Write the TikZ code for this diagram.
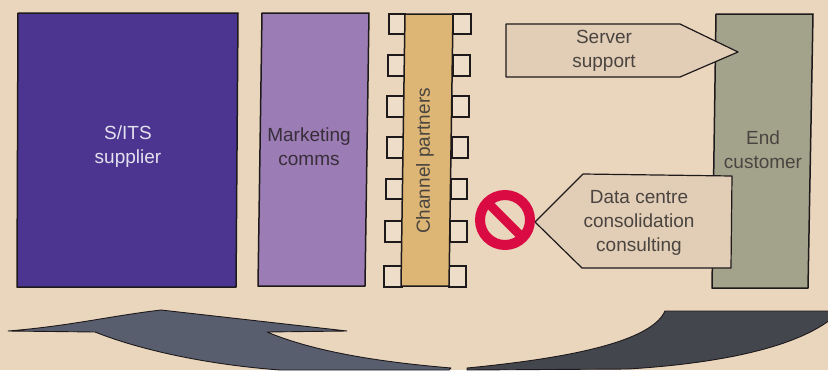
\documentclass[tikz,border=0pt]{standalone}
\usepackage{fontspec}
\setmainfont{Liberation Sans}
\definecolor{paper}{HTML}{EAD6BC}
\definecolor{ink}{HTML}{1E1A1C}
\definecolor{supplier}{HTML}{4B3590}
\definecolor{mkt}{HTML}{9C7CB4}
\definecolor{chan}{HTML}{DDB574}
\definecolor{cust}{HTML}{A3A38C}
\definecolor{tagfill}{HTML}{E2CDB6}
\definecolor{nored}{HTML}{DA0A42}
\definecolor{arrowL}{HTML}{595E6E}
\definecolor{arrowR}{HTML}{44464E}
\definecolor{txt}{HTML}{4A4540}
\tikzset{
  x=1pt,y=-1pt,
  box/.style={draw=ink,line width=1.5pt,line join=round},
  tabbox/.style={draw=ink,line width=1.3pt,fill=paper!80!white},
  tag/.style={draw=ink,line width=1.2pt,fill=tagfill,line join=round},
  lbl/.style={font=\fontsize{19}{24}\selectfont,align=center,text=txt,inner sep=0pt},
  sweep/.style={draw=ink,line width=0.9pt,line join=round}
}
\begin{document}
\begin{tikzpicture}
\useasboundingbox (0,0) rectangle (828,370);
\fill[paper] (0,0) rectangle (828,370);
% blocks
\draw[box,fill=supplier] (18,13) -- (238,13) -- (236,287) -- (17,287) -- cycle;
\draw[box,fill=mkt] (262,13) -- (369,13) -- (365,286) -- (258,286) -- cycle;
\draw[box,fill=cust] (716,14) -- (813,14) -- (808,288) -- (712,288) -- cycle;
% channel tabs
\draw[tabbox] (389,14) rectangle (405,34);
\draw[tabbox] (388,55) rectangle (405,76);
\draw[tabbox] (387,96) rectangle (404,117);
\draw[tabbox] (387,137) rectangle (404,158);
\draw[tabbox] (386,179) rectangle (403,199);
\draw[tabbox] (385,221) rectangle (403,242);
\draw[tabbox] (384,266) rectangle (402,287);
\draw[tabbox] (453,14) rectangle (471,34);
\draw[tabbox] (453,55) rectangle (470,76);
\draw[tabbox] (452,96) rectangle (469,117);
\draw[tabbox] (452,137) rectangle (468,158);
\draw[tabbox] (451,179) rectangle (467,199);
\draw[tabbox] (450,221) rectangle (467,242);
\draw[tabbox] (449,266) rectangle (466,287);
\draw[box,fill=chan] (405,14) -- (453,14) -- (449,286) -- (401,286) -- cycle;
% tags
\draw[tag] (506,24) -- (680,24) -- (738,52) -- (680,77) -- (506,77) -- cycle;
\draw[tag] (583,174) -- (732,176) -- (731,268) -- (582,268) -- (535,222) -- cycle;
% prohibition sign
\draw[nored,line width=10pt] (505,220) circle (25);
\draw[nored,line width=9pt] (488,203) -- (522,237);
% sweep arrows
\draw[sweep,fill=arrowL] (8,331) .. controls (70,326) and (110,316) .. (161,310)
  -- (347,331) -- (267,332)
  .. controls (315,352) and (380,362) .. (451,368)
  -- (449,370) -- (280,370)
  .. controls (200,364) and (135,348) .. (95,332) -- cycle;
\draw[sweep,fill=arrowR] (665,311) -- (830,311) -- (830,320)
  .. controls (790,350) and (710,364) .. (628,369)
  -- (467,370) -- (467,368)
  .. controls (550,360) and (650,345) .. (665,311) -- cycle;
% labels
\node[lbl,text=white!85!supplier] (supplierlabel) at (128,147) {S/ITS\\supplier};
\node[lbl,text=ink!80!mkt] (mktlabel) at (309,147) {Marketing\\comms};
\node[lbl,rotate=90] (chanlabel) at (425,161) {Channel partners};
\node[lbl] (custlabel) at (763,150) {End\\customer};
\node[lbl] (serverlabel) at (604,51) {Server\\support};
\node[lbl] (dclabel) at (639,223) {Data centre\\consolidation\\consulting};
\end{tikzpicture}
\end{document}
